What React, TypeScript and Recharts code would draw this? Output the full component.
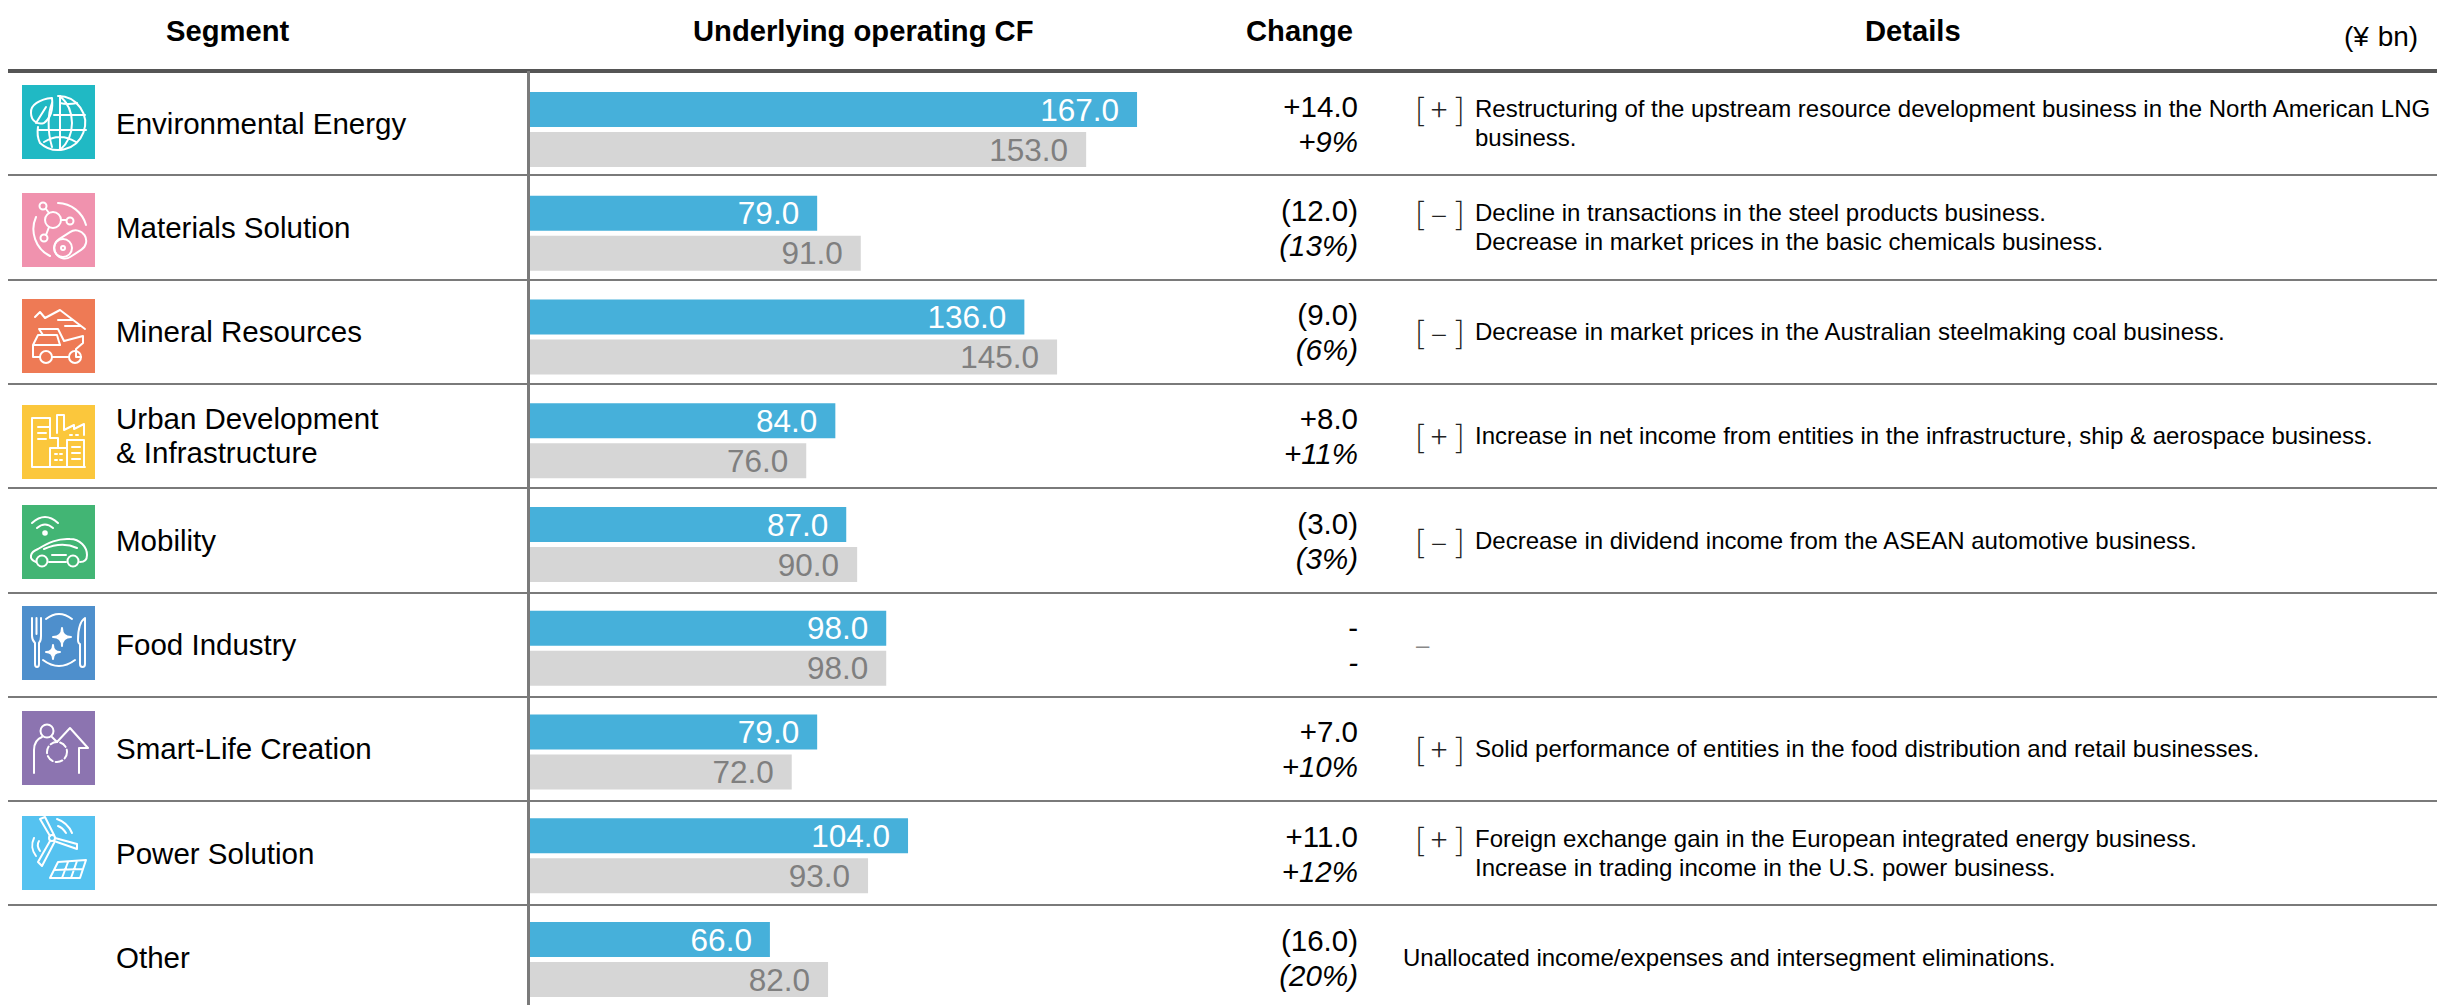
import { BarChart, Bar, XAxis, YAxis, LabelList } from 'recharts'

const FONT = '"Liberation Sans", Arial, sans-serif'

const segments = ['Environmental Energy', 'Materials Solution', 'Mineral Resources', 'Urban Development\n& Infrastructure', 'Mobility', 'Food Industry', 'Smart-Life Creation', 'Power Solution', 'Other']
const current = [167, 79, 136, 84, 87, 98, 79, 104, 66]
const previous = [153, 91, 145, 76, 90, 98, 72, 93, 82]
const changes = ['+14.0', '(12.0)', '(9.0)', '+8.0', '(3.0)', '-', '+7.0', '+11.0', '(16.0)']
const changePcts = ['+9%', '(13%)', '(6%)', '+11%', '(3%)', '-', '+10%', '+12%', '(20%)']
const signs = ['+', '–', '–', '+', '–', '', '+', '+', '']
const details = [
  ['Restructuring of the upstream resource development business in the North American LNG', 'business.'],
  ['Decline in transactions in the steel products business.', 'Decrease in market prices in the basic chemicals business.'],
  ['Decrease in market prices in the Australian steelmaking coal business.'],
  ['Increase in net income from entities in the infrastructure, ship & aerospace business.'],
  ['Decrease in dividend income from the ASEAN automotive business.'],
  ['–'],
  ['Solid performance of entities in the food distribution and retail businesses.'],
  ['Foreign exchange gain in the European integrated energy business.', 'Increase in trading income in the U.S. power business.'],
  ['Unallocated income/expenses and intersegment eliminations.'],
]
const iconColors = ['#20B9C4', '#F092AE', '#EE7A55', '#FBC73C', '#42B574', '#4E8FCC', '#8C74B0', '#55C2F0']
const iconTops = [85, 193, 299, 405, 505, 606, 711, 816]

const chartData = segments.map((name, i) => ({ name, current: current[i], previous: previous[i] }))

const ROW_TOP = 71
const ROW_H = 104.3

function text(left: number, top: number, size: number, str: string, extra: React.CSSProperties = {}) {
  return (
    <div style={{ position: 'absolute', left, top, fontSize: size, lineHeight: 1, whiteSpace: 'pre', transform: 'translateY(-50%)', ...extra }}>
      {str}
    </div>
  )
}

const star = (x: number, y: number, s: number) =>
  `M${x} ${y - s}Q${x} ${y} ${x + s} ${y}Q${x} ${y} ${x} ${y + s}Q${x} ${y} ${x - s} ${y}Q${x} ${y} ${x} ${y - s}Z`

function Icon({ i }: { i: number }) {
  // hand traced white line glyphs, one per segment
  const s = { fill: 'none', stroke: '#fff', strokeWidth: 2, strokeLinecap: 'round' as const, strokeLinejoin: 'round' as const }
  const glyphs = [
    <g {...s}>
      <path d="M30 13C18 14 8 20 9 28C9 36 16 40 22 38C30 32 31 22 30 13ZM14 38L24 22" />
      <path d="M36 11A27 27 0 1 1 18 58M16 42C15 48 16 54 18 58" />
      <path d="M38 11V65M38 11C46 18 50 28 50 38C50 48 46 58 38 65M30 18C26 28 25 45 30 62M32 30H63M16 45H64M22 57Q38 47 54 57M38 18Q46 20 55 18" />
    </g>,
    <g {...s}>
      <path d="M36 10A30 30 0 0 1 64 32M14 24A30 30 0 0 0 28 63" />
      <circle cx="31" cy="27" r="8" />
      <circle cx="21" cy="13" r="3.5" />
      <circle cx="48" cy="28" r="3.5" />
      <circle cx="22" cy="45" r="3.5" />
      <path d="M24 16L27 20M39 27H44M27 34L24 42" />
      <rect x="31" y="41" width="34" height="21" rx="10.5" transform="rotate(-33 48 51)" />
      <circle cx="41" cy="55" r="9" />
      <circle cx="41" cy="55" r="2" />
    </g>,
    <g {...s}>
      <path d="M13 18L18 13L23 19L38 11L63 30M36 21H51M43 27H58" />
      <path d="M17 30H36L42 42L61 37V44L54 50V58H59M17 30L21 36H35L38 46" />
      <path d="M21 36H16L11 46V58H18M30 58H47M11 46H38" />
      <circle cx="24" cy="58" r="6" />
      <circle cx="53" cy="58" r="6" />
    </g>,
    <g {...s}>
      <path d="M10 62V13H28V33H36V43M10 62H63M28 62V43H45V62M45 62V35H62V62M28 22H16M16 28H24M16 34H24M35 28V10H42V25L52 20V24L62 19V30" />
      <path d="M50 42H58M50 48H58M50 54H58M33 49H35M38 49H40M33 55H35M38 55H40M48 30H50M54 30H56" />
    </g>,
    <g {...s}>
      <path d="M10 18Q23 6 36 18M15 23Q23 16 31 23" />
      <circle cx="23" cy="28" r="1.8" fill="#fff" />
      <path d="M14 57C6 54 8 47 16 44C26 38 36 33 48 34C58 34 65 42 65 50C65 54 63 57 58 57M27 57H44M22 44Q40 36 55 43M30 50H44" />
      <circle cx="20" cy="56" r="5.5" />
      <circle cx="51" cy="56" r="5.5" />
    </g>,
    <g {...s}>
      <path d="M10 12V30C10 34 12 36 13 37V58C13 62 17 62 17 58V37C18 36 19 34 19 30V12M14.5 12V28" />
      <path d="M63 12C57 16 56 26 56 34C56 36 57 38 58 38V58C58 62 63 62 63 58Z" />
      <path d="M24 13Q37 3 50 13M21 54Q37 66 53 54" />
      <path d={star(40, 31, 9)} fill="#fff" />
      <path d={star(31, 46, 7)} fill="#fff" />
    </g>,
    <g {...s}>
      <circle cx="25" cy="20" r="6.5" />
      <path d="M12 62V39C12 32 15 28 20 26M30 26L35 31L48 17L66 37H57V62" />
      <circle cx="35" cy="41" r="10" strokeDasharray="7 3" />
    </g>,
    <g {...s}>
      <circle cx="30" cy="22" r="3" />
      <path d="M28 20L18 3L23 1L32 19M33 22L55 28V33L32 25M28 25L16 46L20 50L32 27" />
      <path d="M35 3C41 5 47 10 50 17M36 10C39 11 42 14 44 17M12 22C9 28 10 35 14 40M17 25C15 28 16 32 18 35" />
      <path d="M28 62L36 46L64 44L58 62ZM46 46L40 62M55 45L49 62M32 54L61 53" />
    </g>,
  ]
  return (
    <svg width={73} height={74} viewBox="0 0 73 74" style={{ position: 'absolute', left: 22, top: iconTops[i], display: 'block' }}>
      <rect width={73} height={74} fill={iconColors[i]} />
      {glyphs[i]}
    </svg>
  )
}

function SignTag({ sign, cy }: { sign: string; cy: number }) {
  const thin = { fontFamily: '"Noto Sans CJK JP", sans-serif', fontWeight: 300, color: '#222' }
  return (
    <>
      {text(1415, cy - 2, 31, '[', thin)}
      {text(1439, cy - 2, 31, sign === '+' ? '+' : '–', { ...thin, transform: 'translate(-50%,-50%)' })}
      {text(1455, cy - 2, 31, ']', thin)}
    </>
  )
}

export default function App() {
  return (
    <div style={{ position: 'absolute', left: 0, top: 0, width: 2437, height: 1005, overflow: 'hidden', background: '#fff', color: '#000', fontFamily: FONT }}>
      {text(166, 32, 29.2, 'Segment', { fontWeight: 700 })}
      {text(693, 32, 29.2, 'Underlying operating CF', { fontWeight: 700 })}
      {text(1246, 32, 29.2, 'Change', { fontWeight: 700 })}
      {text(1865, 32, 29.2, 'Details', { fontWeight: 700 })}
      {text(2344, 37, 28, '(¥ bn)', { wordSpacing: 1 })}

      <div style={{ position: 'absolute', left: 8, right: 0, top: 69, height: 4, background: '#555' }} />
      <div style={{ position: 'absolute', left: 527, top: 71, bottom: 0, width: 2.5, background: '#7a7a7a' }} />
      {segments.slice(0, -1).map((_, i) => (
        <div key={i} style={{ position: 'absolute', left: 8, right: 0, top: ROW_TOP + (i + 1) * ROW_H - 1, height: 2, background: '#7a7a7a' }} />
      ))}

      {segments.map((name, i) => {
        const cy = ROW_TOP + 52.5 + i * ROW_H
        const two = details[i].length > 1
        return (
          <div key={name}>
            {i < iconColors.length && <Icon i={i} />}
            {name.includes('\n')
              ? name.split('\n').map((l, k) => <div key={k}>{text(116, cy - 17 + k * 34, 29.5, l)}</div>)
              : text(116, cy, 29.5, name)}
            {text(1358, cy - 17, 29.5, changes[i], { transform: 'translate(-100%,-50%)' })}
            {text(1358, cy + 18, 29.5, changePcts[i], { transform: 'translate(-100%,-50%)', fontStyle: 'italic' })}
            {signs[i] && <SignTag sign={signs[i]} cy={cy - (two ? 15 : 0)} />}
            {details[i].map((l, k) => (
              <div key={k}>
                {text(i === 8 ? 1403 : i === 5 ? 1416 : 1475, cy + (two ? (k === 0 ? -15 : 14) : 0), 24, l, i === 5 ? { color: '#888', fontWeight: 300 } : {})}
              </div>
            ))}
          </div>
        )
      })}

      <div style={{ position: 'absolute', left: 529.5, top: 77.6 }}>
        <BarChart width={727} height={933.75} layout="vertical" data={chartData} margin={{ top: 0, right: 0, bottom: 0, left: 0 }} barSize={35} barGap={5}>
          <XAxis type="number" domain={[0, 200]} hide />
          <YAxis type="category" dataKey="name" hide />
          <Bar dataKey="current" fill="#46B0DA" isAnimationActive={false}>
            <LabelList dataKey="current" position="insideRight" offset={18} fill="#fff" fontSize={31.5} fontFamily={FONT} formatter={(v: number) => v.toFixed(1)} />
          </Bar>
          <Bar dataKey="previous" fill="#D6D6D6" isAnimationActive={false}>
            <LabelList dataKey="previous" position="insideRight" offset={18} fill="#7F7F7F" fontSize={31.5} fontFamily={FONT} formatter={(v: number) => v.toFixed(1)} />
          </Bar>
        </BarChart>
      </div>
    </div>
  )
}
